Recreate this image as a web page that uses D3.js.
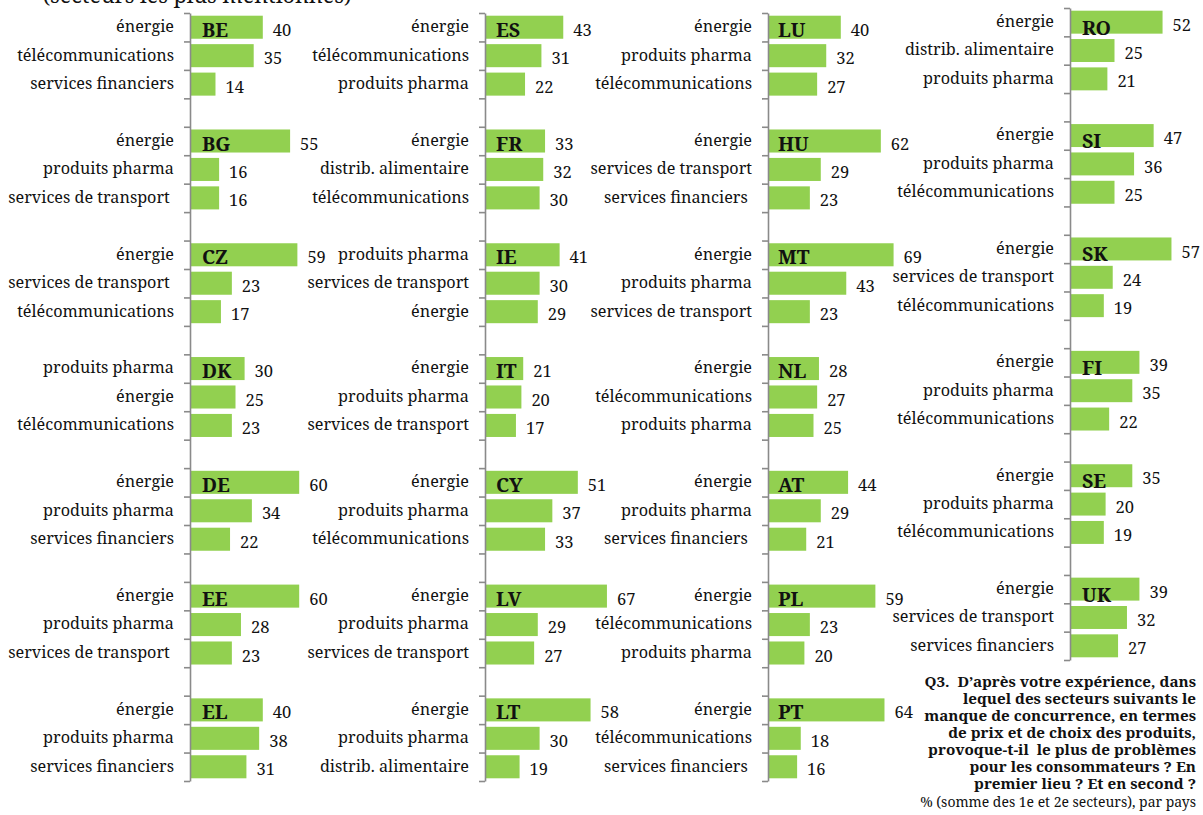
<!DOCTYPE html>
<html>
<head>
<meta charset="utf-8">
<script src="https://cdn.jsdelivr.net/npm/d3@7"></script>
<style>
  html, body { margin: 0; padding: 0; background: #fff; }
  svg { display: block; }
</style>
</head>
<body>
<script>
// ---------------- DATA ----------------
const titleText = "(secteurs les plus mentionnés)";

const countries1 = ["BE", "BG", "CZ", "DK", "DE", "EE", "EL"];
const sectors1 = [
  ["énergie", "télécommunications", "services financiers"],
  ["énergie", "produits pharma", "services de transport\u00a0"],
  ["énergie", "services de transport\u00a0", "télécommunications"],
  ["produits pharma", "énergie", "télécommunications"],
  ["énergie", "produits pharma", "services financiers"],
  ["énergie", "produits pharma", "services de transport\u00a0"],
  ["énergie", "produits pharma", "services financiers"]
];
const values1 = [[40, 35, 14], [55, 16, 16], [59, 23, 17], [30, 25, 23], [60, 34, 22], [60, 28, 23], [40, 38, 31]];

const countries2 = ["ES", "FR", "IE", "IT", "CY", "LV", "LT"];
const sectors2 = [
  ["énergie", "télécommunications", "produits pharma"],
  ["énergie", "distrib. alimentaire", "télécommunications"],
  ["produits pharma", "services de transport", "énergie"],
  ["énergie", "produits pharma", "services de transport"],
  ["énergie", "produits pharma", "télécommunications"],
  ["énergie", "produits pharma", "services de transport"],
  ["énergie", "produits pharma", "distrib. alimentaire"]
];
const values2 = [[43, 31, 22], [33, 32, 30], [41, 30, 29], [21, 20, 17], [51, 37, 33], [67, 29, 27], [58, 30, 19]];

const countries3 = ["LU", "HU", "MT", "NL", "AT", "PL", "PT"];
const sectors3 = [
  ["énergie", "produits pharma", "télécommunications"],
  ["énergie", "services de transport", "services financiers\u00a0"],
  ["énergie", "produits pharma", "services de transport"],
  ["énergie", "télécommunications", "produits pharma"],
  ["énergie", "produits pharma", "services financiers\u00a0"],
  ["énergie", "télécommunications", "produits pharma"],
  ["énergie", "télécommunications", "services financiers\u00a0"]
];
const values3 = [[40, 32, 27], [62, 29, 23], [69, 43, 23], [28, 27, 25], [44, 29, 21], [59, 23, 20], [64, 18, 16]];

const countries4 = ["RO", "SI", "SK", "FI", "SE", "UK"];
const sectors4 = [
  ["énergie", "distrib. alimentaire", "produits pharma"],
  ["énergie", "produits pharma", "télécommunications"],
  ["énergie", "services de transport", "télécommunications"],
  ["énergie", "produits pharma", "télécommunications"],
  ["énergie", "produits pharma", "télécommunications"],
  ["énergie", "services de transport", "services financiers"]
];
const values4 = [[52, 25, 21], [47, 36, 25], [57, 24, 19], [39, 35, 22], [35, 20, 19], [39, 32, 27]];

const noteLines = [
  "Q3.  D’après votre expérience, dans",
  "lequel des secteurs suivants le",
  "manque de concurrence, en termes",
  "de prix et de choix des produits,",
  "provoque-t-il  le plus de problèmes",
  "pour les consommateurs ? En",
  "premier lieu ? Et en second ?"
];
const noteSub = "% (somme des 1e et 2e secteurs), par pays";

// ---------------- LAYOUT ----------------
const W = 1203, H = 815;
const FONT = "'Noto Serif', 'Liberation Serif', 'DejaVu Serif', serif";
const BAR = "#92d050";
const AXIS = "#8a8a8a";
const TXT = "#111";

const columns = [
  { countries: countries1, sectors: sectors1, values: values1, ax: 190, top: 13, bottom: 781, w: 182, codeX: 12, codeDy: -2 },
  { countries: countries2, sectors: sectors2, values: values2, ax: 485, top: 13, bottom: 781, w: 182, codeX: 11, codeDy: -2 },
  { countries: countries3, sectors: sectors3, values: values3, ax: 768, top: 13, bottom: 781, w: 182, codeX: 10, codeDy: -2 },
  { countries: countries4, sectors: sectors4, values: values4, ax: 1070, top: 8, bottom: 660, w: 178, codeX: 12, codeDy: 1 }
];

const svg = d3.select("body").append("svg")
  .attr("width", W).attr("height", H)
  .attr("font-family", FONT);

// measure helper to fit font sizes to widths
function fitSize(text, targetWidth, weight) {
  const t = svg.append("text").attr("font-size", 100).attr("font-weight", weight || "normal").text(text);
  const w = t.node().getComputedTextLength();
  t.remove();
  return 100 * targetWidth / w;
}
const catSize = fitSize("télécommunications", 157);
const valSize = 16.5;
const codeSize = fitSize("BE", 26, "bold");
const noteSize = fitSize(noteLines[2], 272, "bold");
const subSize = fitSize(noteSub, 276);
const titleSize = fitSize(titleText, 309);

// title (partly cut off at the top, as in the source)
svg.append("text")
  .attr("x", 197).attr("y", 3)
  .attr("text-anchor", "middle")
  .attr("font-size", titleSize)
  .attr("fill", TXT)
  .text(titleText);

columns.forEach(col => {
  const nG = col.countries.length;
  const slots = [];
  col.countries.forEach((c, gi) => {
    for (let j = 0; j < 3; j++) slots.push(c + "-" + j);
    if (gi < nG - 1) slots.push(c + "-gap");
  });
  const nS = slots.length;

  const y = d3.scaleBand().domain(slots).range([col.top, col.bottom])
    .paddingInner(0.19).paddingOuter(0.095);
  const yLin = d3.scaleLinear().domain([0, nS]).range([col.top, col.bottom]);
  const x = d3.scaleLinear().domain([0, 100]).range([col.ax, col.ax + col.w]);

  const rows = [];
  col.countries.forEach((c, gi) => {
    col.sectors[gi].forEach((s, j) => {
      rows.push({ key: c + "-" + j, country: c, sector: s, value: col.values[gi][j], first: j === 0 });
    });
  });

  const g = svg.append("g");

  // bars
  g.selectAll("rect.bar").data(rows).join("rect")
    .attr("class", "bar")
    .attr("x", x(0))
    .attr("y", d => y(d.key))
    .attr("width", d => x(d.value) - x(0))
    .attr("height", y.bandwidth())
    .attr("fill", BAR);

  // axis with ticks at slot boundaries
  const axis = d3.axisLeft(yLin).tickValues(d3.range(nS + 1)).tickSize(6).tickSizeOuter(0).tickFormat("");
  const ag = g.append("g").attr("transform", `translate(${col.ax},0)`).call(axis);
  ag.selectAll("path, line").attr("stroke", AXIS).attr("stroke-width", 1.6);

  // category labels
  g.selectAll("text.cat").data(rows).join("text")
    .attr("class", "cat")
    .attr("x", col.ax - 16)
    .attr("y", d => y(d.key) + y.bandwidth() / 2)
    .attr("dy", "0.3em")
    .attr("text-anchor", "end")
    .attr("font-size", catSize)
    .attr("fill", TXT)
    .style("white-space", "pre")
    .text(d => d.sector);

  // value labels
  g.selectAll("text.val").data(rows).join("text")
    .attr("class", "val")
    .attr("x", d => x(d.value) + 10)
    .attr("y", d => y(d.key) + y.bandwidth() / 2 + 3)
    .attr("dy", "0.34em")
    .attr("font-size", valSize)
    .attr("fill", TXT)
    .text(d => d.value);

  // country codes inside first bar
  g.selectAll("text.code").data(rows.filter(d => d.first)).join("text")
    .attr("class", "code")
    .attr("x", x(0) + col.codeX)
    .attr("y", d => y(d.key) + y.bandwidth() + col.codeDy)
    .attr("font-size", codeSize)
    .attr("font-weight", "bold")
    .attr("fill", TXT)
    .text(d => d.country);
});

// question note (bottom right)
const noteX = 1196;
const noteY0 = 687;
const lineH = 17;
const note = svg.append("g").attr("text-anchor", "end").attr("fill", TXT);
note.selectAll("text.nl").data(noteLines).join("text")
  .attr("class", "nl")
  .attr("x", noteX)
  .attr("y", (d, i) => noteY0 + i * lineH)
  .attr("font-size", noteSize)
  .attr("font-weight", "bold")
  .style("white-space", "pre")
  .text(d => d);
note.append("text")
  .attr("x", noteX)
  .attr("y", noteY0 + noteLines.length * lineH + 1)
  .attr("font-size", subSize)
  .text(noteSub);
</script>
</body>
</html>
